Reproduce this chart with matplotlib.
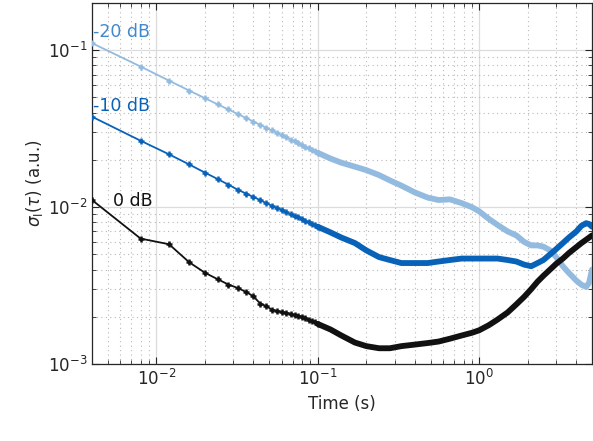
import matplotlib
matplotlib.use("Agg")
import matplotlib.pyplot as plt
import numpy as np

# ---- data ----
tau_early = [0.004, 0.008, 0.012, 0.016, 0.020, 0.024, 0.028, 0.032, 0.036, 0.040,
             0.044, 0.048, 0.052, 0.056, 0.060, 0.064, 0.068, 0.072, 0.076, 0.080,
             0.084, 0.088, 0.092, 0.096, 0.100]
tau_late = [0.12, 0.14, 0.17, 0.2, 0.24, 0.28, 0.33, 0.4, 0.48, 0.56, 0.66, 0.78,
            0.9, 1.0, 1.15, 1.3, 1.5, 1.7, 1.9, 2.1, 2.3, 2.5, 2.75, 3.0, 3.3,
            3.6, 4.0, 4.3, 4.6, 4.8, 5.0]

m20_early = [0.111, 0.0787, 0.0640, 0.0553, 0.0495, 0.0452, 0.0419, 0.0392, 0.0370, 0.0351,
             0.0335, 0.0320, 0.0308, 0.0297, 0.0287, 0.0278, 0.0269, 0.0262, 0.0255, 0.0248,
             0.0242, 0.0237, 0.0231, 0.0227, 0.0222]
m20_late = [0.0204, 0.0192, 0.0181, 0.0172, 0.0160, 0.0148, 0.0137, 0.0124, 0.0115, 0.0111,
            0.0112, 0.0106, 0.0100, 0.0094, 0.0084, 0.0077, 0.0070, 0.0066, 0.0060, 0.0057,
            0.0057, 0.0056, 0.0053, 0.0048, 0.0042, 0.0038, 0.0034, 0.0032, 0.0031, 0.0033,
            0.0040]

m10_early = [0.0377, 0.0265, 0.0217, 0.0187, 0.0166, 0.0151, 0.0139, 0.0129, 0.0122, 0.0116,
             0.0111, 0.0106, 0.0102, 0.0099, 0.0096, 0.0093, 0.0090, 0.0088, 0.0086, 0.0084,
             0.0082, 0.0080, 0.0078, 0.0077, 0.0075]
m10_late = [0.0069, 0.0064, 0.0059, 0.0053, 0.0048, 0.0046, 0.0044, 0.0044, 0.0044, 0.0045,
            0.0046, 0.0047, 0.0047, 0.0047, 0.0047, 0.0047, 0.0046, 0.0045, 0.0043, 0.0042,
            0.0044, 0.0046, 0.0050, 0.0054, 0.0059, 0.0064, 0.0070, 0.0076, 0.0079, 0.0078,
            0.0075]

m0_early = [0.0111, 0.0063, 0.0058, 0.00445, 0.00382, 0.00347, 0.00321, 0.00305, 0.00288, 0.00270,
            0.00243, 0.00234, 0.00222, 0.00218, 0.00215, 0.00212, 0.00209, 0.00205, 0.00203, 0.00200,
            0.00196, 0.00192, 0.00188, 0.00184, 0.00180]
m0_late = [0.00166, 0.00152, 0.00137, 0.00130, 0.00126, 0.00126, 0.00130, 0.00133, 0.00136, 0.00139,
           0.00145, 0.00152, 0.00158, 0.00164, 0.00177, 0.00192, 0.00213, 0.00240, 0.00268, 0.00300,
           0.00335, 0.00365, 0.00400, 0.00435, 0.00470, 0.00510, 0.00556, 0.00590, 0.00620, 0.00640,
           0.00660]

labels = ["-20 dB", "-10 dB", "0 dB"]
line_colors = ["#93bbdf", "#0862b8", "#111111"]
text_colors = ["#4189cf", "#0862b8", "#111111"]

# ---- figure ----
fig = plt.figure(figsize=(5.93, 4.41), dpi=100)
ax = fig.add_axes([92/593, 1-364/441, 500/593, 361/441])

series = [(m20_early, m20_late), (m10_early, m10_late), (m0_early, m0_late)]
for (early, late), col in zip(series, line_colors):
    t_all = tau_early + tau_late
    v_all = early + late
    ax.plot(tau_early, early, color=col, lw=1.3, marker='+', ms=5, mew=1.8, zorder=3)
    ax.plot([tau_early[-1]] + tau_late, [early[-1]] + late, color=col, lw=4.2,
            solid_capstyle='round', solid_joinstyle='round', zorder=3)

ax.set_xscale('log')
ax.set_yscale('log')
ax.set_xlim(0.004, 5.0)
ax.set_ylim(1e-3, 0.2)

ax.grid(True, which='major', color='#dcdcdc', lw=0.9, ls='-')
ax.grid(True, which='minor', color='#b8b8b8', lw=0.8, ls=(0, (1, 3)))
ax.set_axisbelow(True)

ax.tick_params(which='both', direction='in', top=True, right=True, colors='#262626',
               labelsize=12)
ax.tick_params(which='major', length=5, width=0.8)
ax.tick_params(which='minor', length=3, width=0.6)
for s in ax.spines.values():
    s.set_color('#262626')
    s.set_linewidth(0.9)

ax.set_xlabel('Time (s)', fontsize=12, color='#262626', labelpad=4)
ax.set_ylabel(r'$\sigma_\mathrm{I}(\tau)$ (a.u.)', fontsize=12, color='#262626', labelpad=2)

ax.text(0.00408, 0.1306, labels[0], color=text_colors[0], fontsize=12.5, ha='left', va='center')
ax.text(0.00408, 0.0438, labels[1], color=text_colors[1], fontsize=12.5, ha='left', va='center')
ax.text(0.00538, 0.01089, labels[2], color=text_colors[2], fontsize=12.5, ha='left', va='center')

fig.savefig('out.png', dpi=100)
